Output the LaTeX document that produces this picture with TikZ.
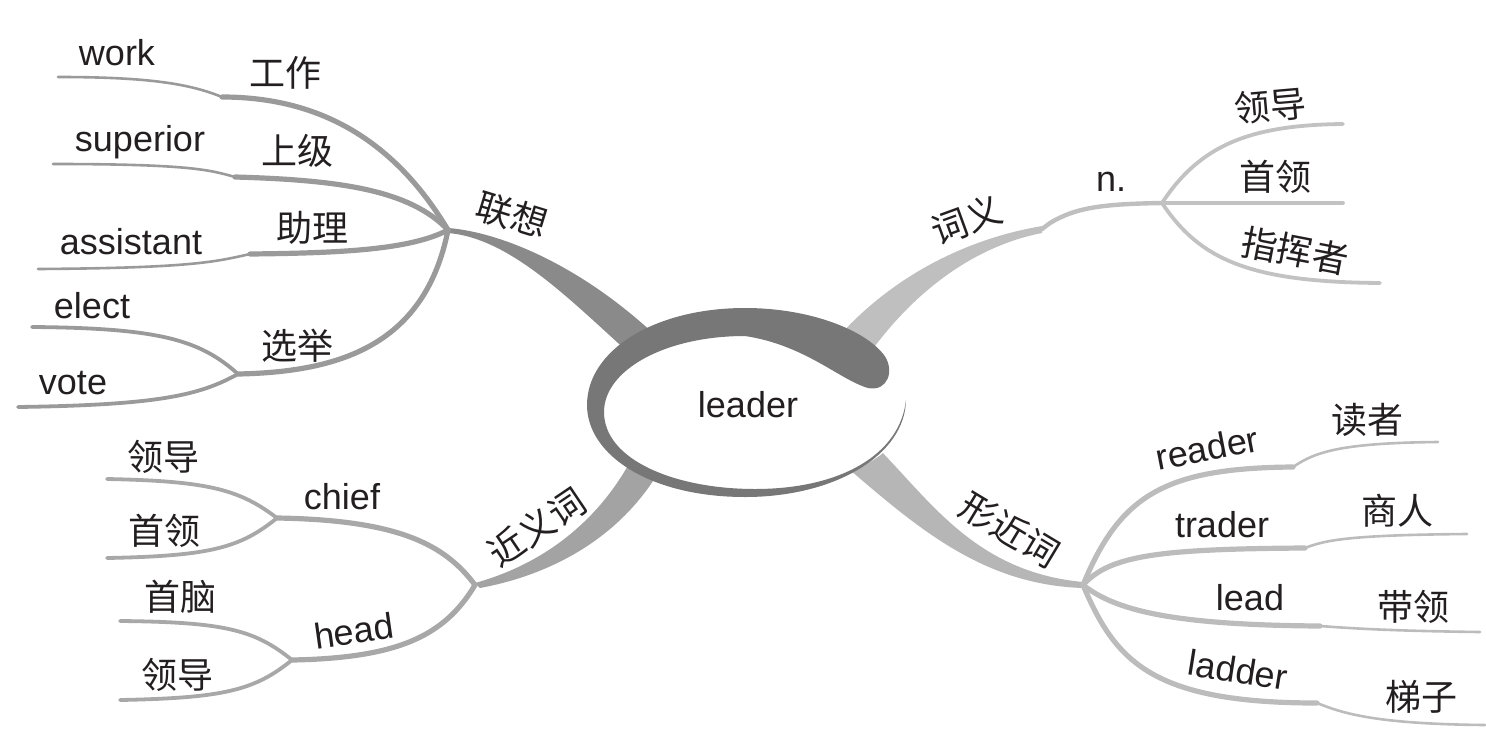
\documentclass[tikz,border=0pt]{standalone}
\usepackage{fontspec}
\setmainfont{Liberation Sans}
\newfontfamily\cjkfont{Noto Sans CJK SC}
\definecolor{txt}{HTML}{231F20}
\definecolor{ringc}{HTML}{777777}
\definecolor{ba}{HTML}{8A8A8A}
\definecolor{bac}{HTML}{9A9A9A}
\definecolor{bb}{HTML}{A3A3A3}
\definecolor{bbc}{HTML}{A8A8A8}
\definecolor{bc}{HTML}{BFBFBF}
\definecolor{bcc}{HTML}{C2C2C2}
\definecolor{bd}{HTML}{B6B6B6}
\definecolor{bdc}{HTML}{BCBCBC}
\tikzset{
  lat/.style={font=\fontsize{18}{20}\selectfont, text=txt, inner sep=0pt},
  cjk/.style={font=\fontsize{18}{20}\selectfont\cjkfont, text=txt, inner sep=0pt},
  inner/.style={line width=2.6pt, line cap=round},
  outer/.style={line width=1.3pt, line cap=round},
  mid/.style={line width=1.9pt, line cap=round},
}
\begin{document}
\begin{tikzpicture}[x=0.5pt,y=-0.5pt]
\path[use as bounding box] (0,0) rectangle (1486,744);

% ---------- hubs and end points ----------
\coordinate (L) at (448,230);
\coordinate (Lw) at (222,97);  \coordinate (Lwe) at (58,77);
\coordinate (Ls) at (235,177); \coordinate (Lse) at (53,164);
\coordinate (La) at (250,254); \coordinate (Lae) at (38,269);
\coordinate (Lx) at (238,374); \coordinate (Lxe) at (32,327); \coordinate (Lxv) at (18,407);

\coordinate (J) at (475,585);
\coordinate (Jc) at (277,518); \coordinate (Jc1) at (107,479); \coordinate (Jc2) at (107,558);
\coordinate (Jh) at (292,660); \coordinate (Jh1) at (120,621); \coordinate (Jh2) at (120,700);

\coordinate (Ck) at (1042,229); \coordinate (N) at (1162,203);
\coordinate (N1) at (1343,124); \coordinate (N2) at (1343,203); \coordinate (N3) at (1380,283);

\coordinate (X) at (1083,585);
\coordinate (Xr) at (1293,467); \coordinate (Xre) at (1438,442);
\coordinate (Xt) at (1305,548); \coordinate (Xte) at (1467,534);
\coordinate (Xl) at (1320,626); \coordinate (Xle) at (1480,632);
\coordinate (Xd) at (1317,703); \coordinate (Xde) at (1485,725);

% ---------- main tapered branches ----------
\fill[ba] (448,228) .. controls (500,232) and (580,265) .. (655,335)
  -- (628,352) .. controls (570,300) and (510,238) .. (448,233) -- cycle;
\fill[bb] (475,583) .. controls (540,565) and (595,525) .. (630,462)
  -- (655,478) .. controls (615,540) and (550,575) .. (480,588) -- cycle;
\fill[bc] (840,335) .. controls (890,280) and (960,240) .. (1042,226)
  -- (1042,233) .. controls (980,245) and (920,285) .. (872,350) -- cycle;
\fill[bd] (875,445) .. controls (930,500) and (975,572) .. (1083,582)
  -- (1083,588) .. controls (985,585) and (920,530) .. (850,470) -- cycle;

% ---------- 联想 children ----------
\draw[bac,inner] (L) .. controls (400,150) and (330,97) .. (Lw);
\draw[bac,outer] (Lw) .. controls (190,84) and (150,77) .. (Lwe);
\draw[bac,inner] (L) .. controls (410,190) and (340,180) .. (Ls);
\draw[bac,outer] (Ls) .. controls (210,170) and (190,164) .. (Lse);
\draw[bac,inner] (L) .. controls (410,250) and (340,253) .. (La);
\draw[bac,outer] (La) .. controls (215,262) and (190,268) .. (Lae);
\draw[bac,inner] (L) .. controls (425,345) and (340,372) .. (Lx);
\draw[bac,mid] (Lx) .. controls (200,340) and (160,328) .. (Lxe);
\draw[bac,mid] (Lx) .. controls (200,395) and (160,405) .. (Lxv);

% ---------- 近义词 children ----------
\draw[bbc,inner] (J) .. controls (445,545) and (400,520) .. (Jc);
\draw[bbc,mid] (Jc) .. controls (240,490) and (210,481) .. (Jc1);
\draw[bbc,mid] (Jc) .. controls (240,548) and (210,556) .. (Jc2);
\draw[bbc,inner] (J) .. controls (445,635) and (400,658) .. (Jh);
\draw[bbc,mid] (Jh) .. controls (255,630) and (225,622) .. (Jh1);
\draw[bbc,mid] (Jh) .. controls (255,690) and (225,698) .. (Jh2);

% ---------- 词义 children ----------
\draw[bc,line width=2.2pt,line cap=round] (Ck) -- (1050,223) .. controls (1075,208) and (1100,204) .. (N);
\draw[bcc,mid] (N) .. controls (1200,145) and (1250,125) .. (N1);
\draw[bcc,mid] (N) -- (N2);
\draw[bcc,mid] (N) .. controls (1200,260) and (1250,282) .. (N3);

% ---------- 形近词 children ----------
\draw[bdc,inner] (X) .. controls (1120,495) and (1165,468) .. (Xr);
\draw[bdc,outer] (Xr) .. controls (1315,452) and (1340,443) .. (Xre);
\draw[bdc,inner] (X) .. controls (1110,555) and (1160,549) .. (Xt);
\draw[bdc,outer] (Xt) .. controls (1325,540) and (1350,535) .. (Xte);
\draw[bdc,inner] (X) .. controls (1115,610) and (1170,625) .. (Xl);
\draw[bdc,outer] (Xl) .. controls (1360,629) and (1400,631) .. (Xle);
\draw[bdc,inner] (X) .. controls (1115,660) and (1150,703) .. (Xd);
\draw[bdc,outer] (Xd) .. controls (1340,712) and (1370,724) .. (Xde);

% ---------- central ring ----------
\fill[white] (755,412) ellipse [x radius=151, y radius=77];
\fill[ringc] (906,400) .. controls (905,455) and (835,497) .. (745,497)
  .. controls (650,497) and (587,455) .. (587,405)
  .. controls (587,350) and (655,308) .. (745,308)
  .. controls (810,308) and (865,330) .. (884,355)
  .. controls (895,370) and (888,392) .. (868,388)
  .. controls (840,380) and (805,345) .. (745,336)
  .. controls (665,336) and (604,370) .. (604,412)
  .. controls (604,460) and (675,489) .. (755,489)
  .. controls (840,489) and (900,455) .. (906,400) -- cycle;
\node[lat] (leader) at (748,405) {leader};

% ---------- labels ----------
\node[cjk,rotate=-17] (lx) at (512,215) {联想};
\node[lat] (work) at (117,53) {work};
\node[cjk] (gz) at (285,73) {工作};
\node[lat] (sup) at (140,142) {superior};
\node[cjk] (sj) at (297,151) {上级};
\node[lat] (ass) at (131,242) {assistant};
\node[cjk] (zl) at (312,228) {助理};
\node[lat] (elect) at (92,306) {elect};
\node[lat] (vote) at (73,383) {vote};
\node[cjk] (xj) at (297,346) {选举};

\node[cjk,rotate=34] (jyc) at (537,527) {近义词};
\node[lat] (chief) at (342,497) {chief};
\node[lat,rotate=8] (head) at (354,631) {head};
\node[cjk] (ld1) at (163,457) {领导};
\node[cjk] (sl1) at (164,531) {首领};
\node[cjk] (sn) at (180,597) {首脑};
\node[cjk] (ld2) at (177,675) {领导};

\node[cjk,rotate=20] (cy) at (967,220) {词义};
\node[lat] (n) at (1111,182) {n.};
\node[cjk,rotate=5] (ld3) at (1270,106) {领导};
\node[cjk] (sl2) at (1275,177) {首领};
\node[cjk,rotate=-11] (zhz) at (1295,251) {指挥者};

\node[cjk,rotate=-31] (xjc) at (1010,530) {形近词};
\node[lat,rotate=11] (reader) at (1207,448) {reader};
\node[cjk] (dz) at (1367,420) {读者};
\node[lat] (trader) at (1222,525) {trader};
\node[cjk] (sr) at (1397,511) {商人};
\node[lat] (lead) at (1250,598) {lead};
\node[cjk] (dl) at (1413,607) {带领};
\node[lat,rotate=-9] (ladder) at (1238,670) {ladder};
\node[cjk] (tz) at (1421,697) {梯子};
\end{tikzpicture}
\end{document}
